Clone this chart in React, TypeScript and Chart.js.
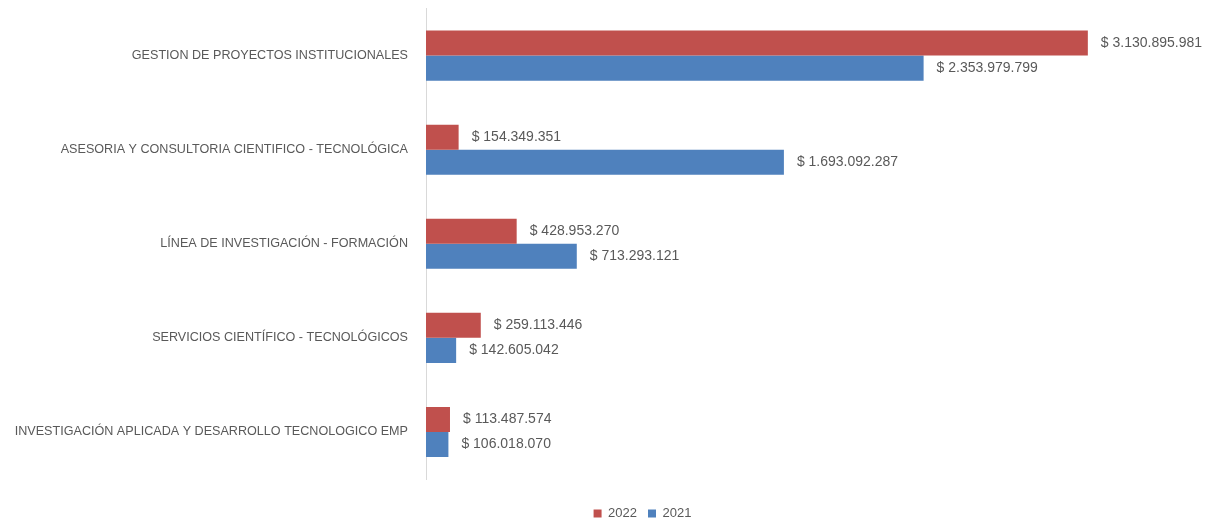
import React, { useEffect, useRef } from "react";
import { Chart, registerables } from "chart.js";

Chart.register(...registerables);

const categories = [
  "GESTION DE PROYECTOS INSTITUCIONALES",
  "ASESORIA Y CONSULTORIA CIENTIFICO - TECNOLÓGICA",
  "LÍNEA DE INVESTIGACIÓN - FORMACIÓN",
  "SERVICIOS CIENTÍFICO - TECNOLÓGICOS",
  "INVESTIGACIÓN APLICADA Y DESARROLLO TECNOLOGICO EMP",
];
const values2022 = [3130895981, 154349351, 428953270, 259113446, 113487574];
const values2021 = [2353979799, 1693092287, 713293121, 142605042, 106018070];
const seriesLabels = ["2022", "2021"];

const fmt = (v: number) =>
  "$ " + String(Math.round(v)).replace(/\B(?=(\d{3})+(?!\d))/g, ".");

const valueLabels = {
  id: "valueLabels",
  afterDatasetsDraw(chart: any) {
    const ctx = chart.ctx;
    ctx.save();
    ctx.font = "14px 'Liberation Sans', Arial, sans-serif";
    ctx.fillStyle = "#595959";
    ctx.textAlign = "left";
    ctx.textBaseline = "middle";
    chart.data.datasets.forEach((ds: any, i: number) => {
      const meta = chart.getDatasetMeta(i);
      meta.data.forEach((bar: any, j: number) => {
        ctx.fillText(fmt(ds.data[j]), bar.x + 13, bar.y);
      });
    });
    ctx.restore();
  },
};

const OFFSET_Y = 9;

const legendShift = {
  id: "legendShift",
  afterLayout(chart: any) {
    const lg = chart.legend;
    if (!lg) return;
    const dx = 49;
    lg.left += dx;
    lg.right += dx;
    const cy = (lg.top + lg.bottom) / 2;
    const dy = 513 + OFFSET_Y - cy;
    lg.top += dy;
    lg.bottom += dy;
  },
};

export default function App() {
  const ref = useRef<HTMLCanvasElement>(null);
  useEffect(() => {
    const chart = new Chart(ref.current!, {
      type: "bar",
      data: {
        labels: categories,
        datasets: [
          {
            label: seriesLabels[0],
            data: values2022,
            backgroundColor: "#C0504D",
            categoryPercentage: 0.532,
            barPercentage: 1,
          },
          {
            label: seriesLabels[1],
            data: values2021,
            backgroundColor: "#4F81BD",
            categoryPercentage: 0.532,
            barPercentage: 1,
          },
        ],
      },
      options: {
        indexAxis: "y",
        animation: false,
        responsive: false,
        maintainAspectRatio: false,
        layout: { padding: { top: 0, right: 19, left: 0, bottom: 6 } },
        scales: {
          x: {
            display: false,
            min: 0,
            max: 3600000000,
          },
          y: {
            grid: { display: false },
            border: { display: true, color: "#D9D9D9", width: 1 },
            ticks: {
              color: "#595959",
              padding: 10,
              font: { family: "'Liberation Sans', Arial, sans-serif", size: 12.6 },
            },
            afterFit: (scale: any) => {
              scale.width = 426;
            },
          },
        },
        plugins: {
          legend: {
            position: "bottom",
            labels: {
              boxWidth: 8,
              boxHeight: 8,
              color: "#595959",
              padding: 11,
              font: { family: "'Liberation Sans', Arial, sans-serif", size: 13 },
            },
          },
          tooltip: { enabled: false },
        },
      },
      plugins: [valueLabels, legendShift],
    });
    return () => chart.destroy();
  }, []);
  return (
    <div style={{ position: "fixed", left: 0, top: 0, width: 1206, height: 519, overflow: "hidden", background: "#fff" }}>
      <canvas
        ref={ref}
        width={1206}
        height={519 + OFFSET_Y}
        style={{ position: "absolute", left: 0, top: -OFFSET_Y }}
      />
    </div>
  );
}
